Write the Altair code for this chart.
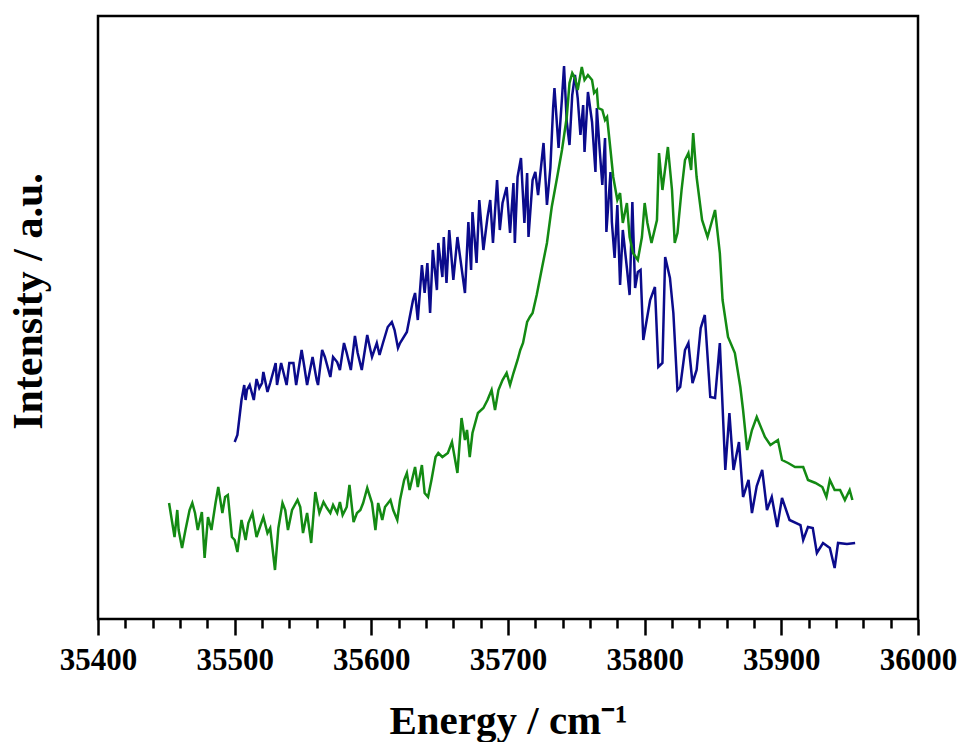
import altair as alt
import pandas as pd

# Blue spectrum (Energy in cm^-1, intensity in arbitrary units)
blue_x = [35500, 35502, 35505, 35507, 35508, 35509, 35511, 35513, 35514, 35516,
          35518, 35520, 35521, 35524, 35526, 35530, 35531, 35534, 35538, 35540,
          35543, 35545, 35549, 35551, 35553, 35557, 35560, 35561, 35564, 35566,
          35570, 35572, 35575, 35577, 35580, 35582, 35585, 35588, 35590, 35593,
          35597, 35599, 35600.5, 35604, 35606, 35608.5, 35612, 35615, 35617, 35619.5,
          35621, 35626, 35630.5, 35632, 35634, 35637, 35639, 35641, 35643, 35645,
          35648, 35649, 35652, 35653, 35655, 35657, 35660, 35663, 35668.5, 35671,
          35673, 35674, 35677, 35679, 35682, 35685, 35687, 35689, 35692, 35694,
          35696, 35699, 35701.5, 35704, 35705, 35707, 35709.5, 35712, 35714, 35715,
          35718, 35720, 35722, 35726, 35728.5, 35731, 35733, 35734, 35737, 35739.5,
          35741, 35743, 35745, 35747, 35749, 35751, 35753, 35755, 35756, 35758.5,
          35761.5, 35764, 35765, 35767, 35769, 35771, 35772, 35775, 35776, 35778,
          35780, 35782, 35784, 35787, 35789, 35791, 35793, 35795, 35797, 35799,
          35804, 35807.5, 35810, 35813, 35815, 35818.5, 35821, 35824, 35826, 35829.5,
          35832, 35835, 35838, 35841, 35844, 35848, 35851.5, 35855, 35859, 35862,
          35865, 35869, 35872, 35876, 35878.5, 35882, 35886, 35889.5, 35893, 35897,
          35900.5, 35906, 35914, 35916, 35919.5, 35923, 35926, 35930.5, 35935.5, 35939,
          35941.5, 35948, 35954]
blue_y = [177, 184, 219, 234, 219, 229, 234, 224, 219, 240,
          231, 236, 247, 227, 236, 256, 234, 256, 234, 256,
          256, 234, 269, 252, 234, 262, 239, 234, 269, 262,
          242, 262, 257, 249, 276, 266, 249, 283, 266, 249,
          284, 271, 262, 276, 264, 276, 292, 297, 289, 271,
          276, 287, 319, 326, 299, 354, 326, 356, 306, 369,
          329, 376, 342, 382, 336, 389, 339, 382, 326, 397,
          349, 407, 356, 419, 369, 402, 419, 376, 439, 389,
          416, 432, 386, 436, 376, 442, 461, 396, 446, 382,
          439, 447, 424, 476, 414, 451, 511, 531, 471, 521,
          553, 497, 474, 524, 544, 521, 484, 514, 467, 527,
          497, 447, 511, 471, 434, 481, 387, 447, 397, 361,
          414, 334, 389, 351, 324, 417, 331, 347, 349, 279,
          319, 332, 252, 256, 362, 341, 306, 229, 232, 269,
          276, 236, 249, 291, 304, 222, 221, 276, 149, 206,
          149, 177, 122, 139, 106, 133, 149, 109, 122, 92,
          121, 99, 94, 79, 92, 91, 66, 76, 71, 51,
          76, 75, 76]

# Green spectrum
green_x = [35452, 35454, 35456, 35458, 35459, 35461.5, 35464, 35467, 35469, 35471,
           35473, 35476, 35478, 35480.5, 35483, 35486, 35488, 35491, 35493, 35495,
           35498, 35500, 35502, 35505, 35508, 35510, 35513, 35516, 35518.5, 35521,
           35524, 35526, 35529.5, 35532, 35535, 35537, 35539, 35542, 35546, 35548,
           35550, 35553, 35556, 35559, 35562, 35565, 35567.5, 35570, 35572, 35575,
           35577, 35579, 35582, 35584, 35587, 35589.5, 35592, 35594, 35597, 35600.5,
           35603, 35605, 35608, 35610, 35614, 35616, 35619, 35621, 35624, 35626,
           35628, 35632, 35634, 35637, 35639, 35641.5, 35644, 35647, 35649, 35652,
           35656, 35659, 35663, 35666, 35668.5, 35670, 35672, 35674, 35678, 35682,
           35685, 35688, 35690.5, 35693, 35696, 35699, 35701.5, 35704, 35707, 35709,
           35711, 35714, 35716, 35718, 35721, 35725, 35728.5, 35732, 35736, 35739.5,
           35743, 35745, 35747, 35749, 35751, 35754, 35756, 35758.5, 35761.5, 35763,
           35765, 35766, 35769, 35771, 35772.5, 35775, 35777, 35780, 35782, 35784,
           35787, 35789, 35791.5, 35795, 35798, 35800, 35802, 35805, 35809, 35810.5,
           35813, 35817, 35820, 35822, 35824, 35827, 35829.5, 35832, 35834, 35835.5,
           35838, 35842, 35846, 35851.5, 35855, 35857, 35861, 35866, 35870, 35872,
           35875, 35878.5, 35882, 35888, 35892, 35897.5, 35900.5, 35905, 35910, 35916,
           35919.5, 35925, 35930, 35933, 35935.5, 35939, 35943, 35946.5, 35950, 35952]
green_y = [116, 99, 82, 109, 89, 71, 89, 109, 116, 106,
           89, 107, 61, 102, 89, 116, 132, 106, 122, 124,
           82, 79, 67, 99, 79, 96, 106, 82, 92, 102,
           86, 91, 49, 91, 116, 109, 89, 109, 119, 112,
           86, 106, 76, 127, 106, 117, 111, 106, 114, 106,
           117, 104, 112, 134, 97, 106, 109, 116, 131, 116,
           89, 116, 99, 112, 119, 109, 99, 119, 139, 146,
           129, 152, 132, 154, 126, 122, 139, 162, 166, 162,
           166, 177, 146, 201, 179, 189, 162, 186, 206, 211,
           219, 229, 209, 229, 239, 246, 234, 246, 259, 269,
           276, 297, 302, 306, 324, 352, 376, 412, 442, 469,
           502, 536, 546, 541, 529, 552, 539, 544, 539, 526,
           529, 511, 509, 499, 502, 469, 442, 419, 426, 396,
           416, 382, 366, 359, 382, 416, 396, 376, 399, 466,
           429, 472, 429, 376, 386, 429, 459, 466, 449, 486,
           442, 399, 382, 409, 366, 319, 282, 266, 232, 209,
           169, 189, 202, 182, 174, 179, 159, 156, 152, 152,
           139, 136, 132, 122, 139, 129, 129, 119, 129, 119]

x_ticks = list(range(35400, 36001, 20))

blue = pd.DataFrame({"energy": blue_x, "intensity": blue_y})
green = pd.DataFrame({"energy": green_x, "intensity": green_y})

FONT = "Liberation Serif"

x_enc = alt.X(
    "energy:Q",
    scale=alt.Scale(domain=[35400, 36000], nice=False, zero=False),
    axis=alt.Axis(
        values=x_ticks,
        format="d",
        labelExpr="datum.value % 100 === 0 ? datum.label : ''",
        tickSize={"condition": {"test": "datum.value % 100 === 0", "value": 16}, "value": 9},
        tickWidth=2.5,
        tickColor="black",
        domain=False,
        grid=False,
        labelFont=FONT,
        labelFontSize=31,
        labelFontWeight="bold",
        labelColor="black",
        labelPadding=10,
        labelFlush=False,
        labelOverlap=False,
        title="Energy / cm⁻¹",
        titleFont=FONT,
        titleFontSize=41,
        titleFontWeight="bold",
        titleColor="black",
        titleBaseline="alphabetic",
        titleY=114,
    ),
)
y_enc = alt.Y(
    "intensity:Q",
    scale=alt.Scale(domain=[0, 603], nice=False, zero=False),
    axis=alt.Axis(
        labels=False,
        ticks=False,
        domain=False,
        grid=False,
        title="Intensity / a.u.",
        titleFont=FONT,
        titleFontSize=42,
        titleFontWeight="bold",
        titleColor="black",
        titleAngle=-90,
        titleBaseline="alphabetic",
        titleX=-57,
        titleY=285,
    ),
)

blue_line = alt.Chart(blue).mark_line(color="#0b0b8c", strokeWidth=2.5).encode(x=x_enc, y=y_enc)
green_line = alt.Chart(green).mark_line(color="#138a13", strokeWidth=2.5).encode(x=x_enc, y=y_enc)

chart = (
    alt.layer(blue_line, green_line)
    .properties(
        width=820,
        height=603,
        background="white",
        autosize=alt.AutoSizeParams(type="none"),
        padding={"left": 98, "top": 16, "right": 39, "bottom": 123},
    )
    .configure_view(stroke="black", strokeWidth=2.5)
)

chart.save("out.html", embed_options={"renderer": "svg", "actions": False})
